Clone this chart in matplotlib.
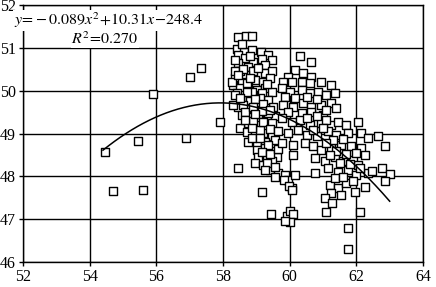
import matplotlib

matplotlib.use("Agg")
import matplotlib.pyplot as plt
import numpy as np

plt.rcParams["font.family"] = ["Liberation Serif", "DejaVu Serif"]
plt.rcParams["mathtext.fontset"] = "stix"

# puntos (x, y), fila a fila
x_obs = [
    54.45, 54.70, 55.60, 55.44, 55.90, 56.88, 57.00, 57.33, 57.90,
    58.44, 58.68, 58.88,
    58.41, 58.64, 58.88, 59.14, 59.36, 58.46,
    58.66, 58.91, 59.16, 59.46, 59.26, 58.76, 58.46,
    58.91, 59.26, 59.46, 58.66, 58.36, 58.56, 58.96, 59.21, 59.41,
    58.31, 58.51, 58.76, 59.01, 59.26, 59.46, 58.41, 58.66, 58.91, 59.16,
    58.56, 58.81, 59.06, 59.36, 59.51, 58.71, 58.96, 59.26, 58.46,
    58.56, 58.81, 59.06, 59.31, 59.56, 58.76, 59.01, 59.26, 59.46, 58.51,
    58.71, 58.96, 59.21, 59.46, 58.76, 59.01, 59.26, 59.56,
    59.01, 59.26, 59.51, 59.06, 59.31, 59.61, 58.96, 59.21, 59.46,
    59.41, 59.66, 59.86, 59.56, 59.96, 60.06,
    58.46, 59.16,
    58.26, 58.36, 58.31,
    58.51, 58.71, 58.86, 59.11, 58.61, 58.91, 59.11, 58.86, 59.36, 58.36, 58.56, 58.81,
    58.36, 58.61, 58.81, 59.06, 59.31, 58.46, 58.71, 58.96, 59.21, 58.51,
    58.66, 58.91, 59.16, 59.41, 58.66, 58.96, 59.21, 59.41, 58.86, 59.11,
    59.36, 59.16, 59.41, 59.66, 59.31, 59.56,
    59.25, 59.84, 59.99, 60.17, 60.08,
    59.93, 60.00, 60.10, 60.00, 59.87, 59.43,
    60.31, 60.65,
    60.16, 60.41, 59.96, 60.65, 59.81, 60.06, 60.36, 60.61, 60.95, 61.25,
    59.76, 60.01, 60.36, 60.61, 60.86, 61.10, 61.35, 59.86, 60.16,
    59.81, 60.11, 60.41, 60.65, 60.95, 61.25, 61.40, 59.96, 60.36, 60.65, 61.00,
    59.76, 60.06, 60.31, 60.61, 60.95, 61.25, 61.45, 61.70, 62.05,
    59.66, 59.96, 60.26, 60.51, 60.81, 61.15, 61.40, 61.75, 62.15, 62.35,
    59.76, 60.11, 60.46, 60.70, 60.95, 61.25, 61.55, 61.85, 62.15, 62.25,
    60.11, 60.75, 61.05, 61.35, 61.60, 61.90, 62.05,
    61.15, 61.45, 61.75, 62.00, 62.35, 60.75,
    61.20, 61.45, 61.70, 61.25, 61.55, 61.95, 61.05, 62.25,
    60.51, 60.81, 61.10, 60.51, 60.81, 61.10, 60.71, 61.00, 61.30, 61.60,
    61.10, 61.40, 61.70, 62.00, 61.20, 61.50, 61.80, 61.35, 61.60, 61.90, 62.10,
    61.10, 61.76, 61.76, 62.12, 61.28,
    62.66, 62.87, 62.48, 62.78, 63.00, 62.85,
]
y_obs = [
    48.57, 47.65, 47.68, 48.82, 49.92, 48.90, 50.32, 50.53, 49.27,
    51.26, 51.27, 51.27,
    50.98, 50.90, 50.95, 50.91, 50.84, 50.84,
    50.76, 50.68, 50.74, 50.72, 50.60, 50.56, 50.64,
    50.45, 50.41, 50.46, 50.37, 50.29, 50.21, 50.25, 50.21, 50.29,
    50.14, 50.06, 50.10, 50.02, 50.06, 49.98, 49.94, 49.90, 49.90, 49.94,
    49.79, 49.75, 49.71, 49.79, 49.63, 49.59, 49.55, 49.59, 49.63,
    49.43, 49.39, 49.45, 49.36, 49.42, 49.24, 49.20, 49.16, 49.24, 49.12,
    49.04, 48.97, 49.01, 48.93, 48.81, 48.77, 48.81, 48.85,
    48.62, 48.66, 48.58, 48.46, 48.42, 48.46, 48.31, 48.27, 48.35,
    48.15, 48.07, 48.03, 47.99, 47.92, 47.72,
    48.19, 47.64,
    50.21, 49.90, 49.67,
    50.45, 50.18, 49.98, 49.82, 49.66, 49.30, 49.08, 48.90, 49.48, 50.46, 51.08, 50.82,
    50.72, 50.50, 50.30, 50.52, 50.16, 50.36, 49.98, 49.80, 49.70, 49.84,
    49.50, 49.62, 49.52, 49.56, 49.32, 49.46, 49.28, 49.10, 49.14, 48.90,
    48.72, 48.56, 48.52, 48.64, 48.30, 48.22,
    48.14, 47.91, 47.77, 48.03, 47.68,
    47.07, 47.19, 47.12, 46.93, 46.95, 47.12,
    50.80, 50.68,
    50.49, 50.41, 50.33, 50.33, 50.21, 50.21, 50.21, 50.18, 50.21, 50.14,
    50.06, 49.98, 50.02, 49.94, 49.98, 49.90, 49.94, 49.86, 49.82,
    49.67, 49.63, 49.71, 49.63, 49.67, 49.71, 49.59, 49.51, 49.47, 49.51, 49.44,
    49.36, 49.28, 49.32, 49.20, 49.24, 49.20, 49.28, 49.20, 49.28,
    49.05, 49.01, 49.09, 48.97, 48.93, 49.05, 48.97, 49.01, 49.01, 48.89,
    48.77, 48.73, 48.77, 48.70, 48.62, 48.66, 48.73, 48.70, 48.66, 48.50,
    48.50, 48.42, 48.35, 48.46, 48.35, 48.39, 48.27,
    48.19, 48.11, 48.15, 48.03, 48.07, 48.07,
    47.80, 47.72, 47.84, 47.60, 47.57, 47.64, 47.49, 47.76,
    49.85, 49.80, 49.56, 49.36, 49.40, 49.32, 49.08, 49.12, 48.85, 48.88,
    48.78, 48.60, 48.52, 48.55, 48.50, 48.30, 48.28, 47.95, 47.98, 47.90, 48.20,
    47.16, 46.79, 46.30, 47.16, 47.37,
    48.95, 48.70, 48.13, 48.20, 48.05, 47.90,
]

# curva de tendencia tal como aparece dibujada (constante ajustada al trazo)
trend_coef = [-0.089, 10.31, -248.87]
trend_range = [54.4, 63.0]
eq_label = r"$y\!=\!-0.089x^2\!+\!10.31x\!-\!248.4$"
r2_label = r"$R^2\!=\!0.270$"

fig = plt.figure(figsize=(4.36, 2.87), dpi=100)
ax = fig.add_axes([23 / 436, 1 - 262 / 287, 400 / 436, 257 / 287])

ax.grid(True, color="black", linewidth=1.0)
ax.set_axisbelow(True)

ax.scatter(x_obs, y_obs, marker="s", s=26, facecolor="white",
           edgecolor="black", linewidths=1.0, zorder=3)

xt = np.linspace(trend_range[0], trend_range[1], 200)
ax.plot(xt, np.polyval(trend_coef, xt), color="black", linewidth=1.1, zorder=4)

ax.set_xlim(52, 64)
ax.set_ylim(46, 52)
ax.set_xticks(np.arange(52, 65, 2))
ax.set_yticks(np.arange(46, 53, 1))
ax.tick_params(direction="out", length=3, width=1, labelsize=11.5, pad=2,
               colors="black")
for sp in ax.spines.values():
    sp.set_color("black")
    sp.set_linewidth(1.0)

box = dict(facecolor="white", edgecolor="none", pad=0.5)
ax.text(0.214, 0.94, eq_label, transform=ax.transAxes, ha="center",
        va="center", fontsize=11.5, bbox=box, zorder=5)
ax.text(0.205, 0.866, r2_label, transform=ax.transAxes, ha="center",
        va="center", fontsize=11.5, bbox=box, zorder=5)

fig.savefig("out.png", dpi=100)
